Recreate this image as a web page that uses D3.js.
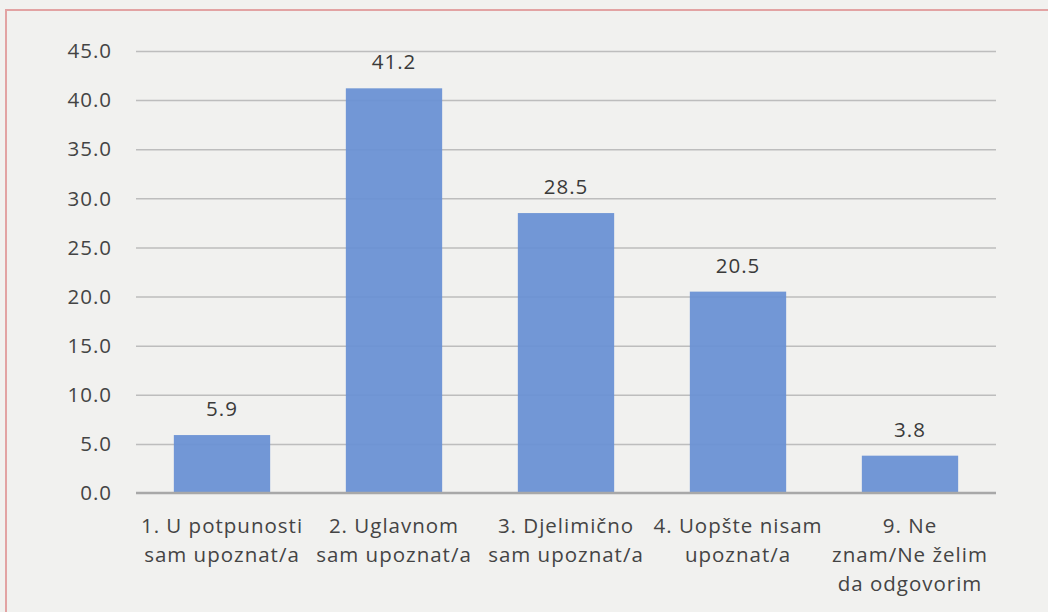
<!DOCTYPE html>
<html>
<head>
<meta charset="utf-8">
<style>
  body { margin: 0; background: #f1f1ef; }
  svg { display: block; font-family: 'Open Sans', 'Noto Sans', sans-serif; }
  .grid line { stroke: #bdbdbd; stroke-width: 1.5; }
  .grid .domain { display: none; }
  .ytick, .cat, .val { font-size: 20.5px; letter-spacing: 1px; fill: #444; }
  .val { fill: #3a3a3a; }
</style>
</head>
<body>
<svg width="1048" height="612"></svg>
<script src="https://d3js.org/d3.v7.min.js"></script>
<script>
  const categories = [
    ["1. U potpunosti", "sam upoznat/a"],
    ["2. Uglavnom", "sam upoznat/a"],
    ["3. Djelimično", "sam upoznat/a"],
    ["4. Uopšte nisam", "upoznat/a"],
    ["9. Ne", "znam/Ne želim", "da odgovorim"]
  ];
  const values = [5.9, 41.2, 28.5, 20.5, 3.8];
  const yTicks = [0, 5, 10, 15, 20, 25, 30, 35, 40, 45];

  const svg = d3.select("svg");
  const m = { left: 136, right: 996, top: 51, bottom: 493 };

  // faint border like the original frame
  svg.append("rect")
    .attr("x", 6).attr("y", 10)
    .attr("width", 1060).attr("height", 620)
    .attr("fill", "none")
    .attr("stroke", "#e2a3a3")
    .attr("stroke-width", 2);

  const x = d3.scaleBand()
    .domain(d3.range(values.length))
    .range([m.left, m.right])
    .paddingInner(0.44)
    .paddingOuter(0.22);

  const y = d3.scaleLinear().domain([0, 45]).range([m.bottom, m.top]);

  svg.append("g").attr("class", "grid")
    .attr("transform", `translate(${m.left},0)`)
    .call(d3.axisLeft(y).tickValues(yTicks.slice(1)).tickSize(-(m.right - m.left)).tickFormat(""));

  // y tick labels
  svg.append("g").selectAll("text")
    .data(yTicks).join("text")
    .attr("class", "ytick")
    .attr("x", 112).attr("y", d => y(d))
    .attr("dy", "0.35em")
    .attr("text-anchor", "end")
    .text(d => d.toFixed(1));

  // bars, slightly transparent so the grid shows through
  svg.append("g").selectAll("rect")
    .data(values).join("rect")
    .attr("x", (d, i) => x(i))
    .attr("y", d => y(d))
    .attr("width", x.bandwidth())
    .attr("height", d => y(0) - y(d))
    .attr("fill", "#6890d4")
    .attr("fill-opacity", 0.93);

  // baseline
  svg.append("line")
    .attr("x1", m.left).attr("x2", m.right)
    .attr("y1", y(0)).attr("y2", y(0))
    .attr("stroke", "#a8a8a8").attr("stroke-width", 2.5);

  // value labels
  svg.append("g").selectAll("text")
    .data(values).join("text")
    .attr("class", "val")
    .attr("x", (d, i) => x(i) + x.bandwidth() / 2)
    .attr("y", d => y(d) - 19)
    .attr("text-anchor", "middle")
    .text(d => d.toFixed(1));

  // category labels
  const cg = svg.append("g").selectAll("text")
    .data(categories).join("text")
    .attr("class", "cat")
    .attr("text-anchor", "middle")
    .attr("x", (d, i) => x(i) + x.bandwidth() / 2)
    .attr("y", 533);
  cg.selectAll("tspan")
    .data(d => d).join("tspan")
    .attr("x", function () { return d3.select(this.parentNode).attr("x"); })
    .attr("dy", (d, i) => i === 0 ? 0 : 29)
    .text(d => d);
</script>
</body>
</html>
